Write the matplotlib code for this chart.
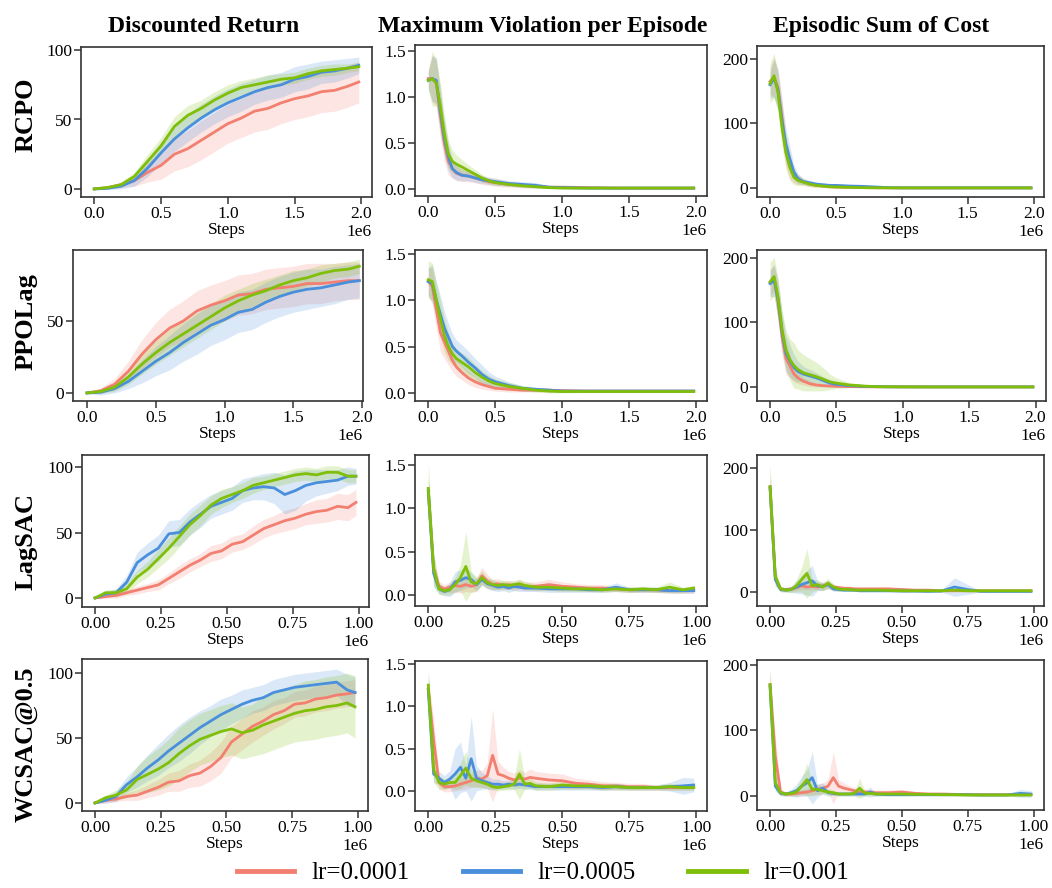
import matplotlib
matplotlib.use('Agg')
import matplotlib.pyplot as plt
from matplotlib.ticker import MultipleLocator, FixedLocator
from matplotlib.lines import Line2D
import numpy as np

plt.rcParams['font.family'] = ['Liberation Serif', 'DejaVu Serif']

# ---------------- labels ----------------
ALGOS = ['RCPO', 'PPOLag', 'LagSAC', 'WCSAC@0.5']
METRICS = ['Discounted Return', 'Maximum Violation per Episode', 'Episodic Sum of Cost']
LRS = ['lr=0.0001', 'lr=0.0005', 'lr=0.001']
COLORS = ['#F27F70', '#4A8FDB', '#7FBF0A']

# ---------------- step grids (in units of 1e6 steps) ----------------
S2R = [0, 0.1, 0.2, 0.3, 0.4, 0.5, 0.6, 0.7, 0.8, 0.9, 1.0, 1.1, 1.2, 1.3, 1.4, 1.5, 1.6, 1.7, 1.8, 1.9, 1.98]
S2C = [0, 0.03, 0.06, 0.09, 0.12, 0.15, 0.18, 0.21, 0.25, 0.3, 0.35, 0.4, 0.45, 0.5, 0.6, 0.7, 0.8, 0.9, 1.0, 1.2, 1.4, 1.6, 1.8, 1.98]
S1R = [0, 0.04, 0.08, 0.12, 0.16, 0.2, 0.24, 0.28, 0.32, 0.36, 0.4, 0.44, 0.48, 0.52, 0.56, 0.6, 0.64, 0.68, 0.72, 0.76, 0.8, 0.84, 0.88, 0.92, 0.96, 0.99]
S1C = [0, 0.02, 0.04, 0.06, 0.08, 0.1, 0.12, 0.14, 0.16, 0.18, 0.2, 0.22, 0.24, 0.26, 0.28, 0.3, 0.32, 0.34, 0.36, 0.38, 0.4,
       0.45, 0.5, 0.55, 0.6, 0.65, 0.7, 0.75, 0.8, 0.85, 0.9, 0.95, 0.99]

# ---------------- RCPO ----------------
RCPO_RET_1 = [0, 1, 3, 6, 12, 17, 25, 29, 35, 41, 47, 51, 56, 58, 62, 65, 67, 70, 71, 74, 77]
RCPO_RET_1_SD = [0.5, 1, 2, 4, 7, 10, 12, 13, 14, 14, 14, 14, 15, 15, 15, 15, 15, 15, 15, 15, 15]
RCPO_RET_2 = [0, 0.5, 2, 6, 15, 26, 36, 44, 51, 57, 62, 66, 70, 73, 75, 79, 81, 84, 85, 87, 89]
RCPO_RET_2_SD = [0.5, 1, 2, 4, 6, 8, 9, 10, 10, 10, 10, 10, 9, 9, 9, 9, 9, 8, 8, 7, 6]
RCPO_RET_3 = [0, 1, 3, 9, 20, 31, 45, 53, 58, 64, 69, 73, 75, 77, 79, 80, 83, 85, 86, 87, 88]
RCPO_RET_3_SD = [0.5, 1, 2, 3, 5, 6, 7, 7, 6, 6, 6, 5, 5, 5, 4, 4, 4, 4, 4, 3, 3]

RCPO_VIO_1 = [1.2, 1.2, 1.15, 0.8, 0.5, 0.3, 0.22, 0.17, 0.15, 0.14, 0.12, 0.1, 0.08, 0.07, 0.05, 0.04, 0.03, 0.02, 0.02, 0.015, 0.01, 0.01, 0.01, 0.01]
RCPO_VIO_1_SD = [0.1, 0.25, 0.25, 0.25, 0.2, 0.15, 0.1, 0.08, 0.07, 0.06, 0.05, 0.05, 0.04, 0.04, 0.03, 0.03, 0.02, 0.015, 0.01, 0.01, 0.005, 0.005, 0.005, 0.005]
RCPO_VIO_2 = [1.18, 1.2, 1.18, 0.85, 0.55, 0.35, 0.22, 0.18, 0.15, 0.14, 0.12, 0.1, 0.09, 0.08, 0.06, 0.05, 0.04, 0.02, 0.015, 0.01, 0.01, 0.01, 0.01, 0.01]
RCPO_VIO_2_SD = [0.1, 0.25, 0.25, 0.25, 0.2, 0.15, 0.1, 0.08, 0.06, 0.05, 0.05, 0.04, 0.04, 0.04, 0.03, 0.03, 0.03, 0.015, 0.01, 0.01, 0.005, 0.005, 0.005, 0.005]
RCPO_VIO_3 = [1.18, 1.2, 1.15, 0.9, 0.6, 0.38, 0.3, 0.27, 0.24, 0.2, 0.16, 0.12, 0.09, 0.07, 0.05, 0.035, 0.025, 0.015, 0.01, 0.01, 0.01, 0.01, 0.01, 0.01]
RCPO_VIO_3_SD = [0.1, 0.3, 0.25, 0.25, 0.2, 0.15, 0.12, 0.1, 0.08, 0.06, 0.05, 0.04, 0.03, 0.03, 0.02, 0.015, 0.01, 0.01, 0.005, 0.005, 0.005, 0.005, 0.005, 0.005]

RCPO_COST_1 = [165, 172, 155, 110, 58, 34, 20, 13, 10, 6, 4, 3, 2, 1.5, 1, 0.5, 0.3, 0.2, 0.1, 0.1, 0.1, 0.1, 0.1, 0.1]
RCPO_COST_1_SD = [20, 30, 30, 30, 25, 20, 12, 8, 5, 4, 3, 2, 2, 1.5, 1, 1, 0.5, 0.5, 0.2, 0.1, 0.1, 0.1, 0.1, 0.1]
RCPO_COST_2 = [160, 170, 152, 105, 68, 45, 25, 15, 10, 8, 6, 5, 4, 4, 3, 2.5, 1.5, 0.5, 0.2, 0.1, 0.1, 0.1, 0.1, 0.1]
RCPO_COST_2_SD = [20, 30, 30, 30, 25, 20, 12, 8, 5, 4, 3, 3, 3, 3, 2, 2, 1, 0.5, 0.2, 0.1, 0.1, 0.1, 0.1, 0.1]
RCPO_COST_3 = [162, 174, 148, 95, 55, 32, 17, 12, 9, 6, 4, 3, 2, 1.5, 1, 0.5, 0.3, 0.2, 0.1, 0.1, 0.1, 0.1, 0.1, 0.1]
RCPO_COST_3_SD = [30, 35, 30, 30, 25, 20, 12, 8, 5, 4, 3, 2, 2, 1.5, 1, 1, 0.5, 0.5, 0.2, 0.1, 0.1, 0.1, 0.1, 0.1]

# ---------------- PPOLag ----------------
PPOL_RET_1 = [0, 1.5, 6, 15, 27, 37, 45, 50, 57, 61, 64, 68, 69, 72, 73, 74, 76, 76, 77, 78, 78]
PPOL_RET_1_SD = [0.5, 2, 4, 7, 10, 12, 13, 14, 14, 14, 14, 14, 14, 14, 14, 14, 14, 14, 13, 13, 13]
PPOL_RET_2 = [0, 0.5, 3, 8, 15, 22, 28, 35, 41, 47, 51, 56, 58, 63, 67, 70, 72, 73, 75, 77, 78]
PPOL_RET_2_SD = [0.5, 2, 3, 5, 8, 10, 12, 13, 14, 14, 14, 14, 14, 14, 14, 14, 14, 13, 13, 12, 12]
PPOL_RET_3 = [0, 1, 4, 11, 20, 28, 35, 41, 47, 53, 59, 64, 68, 71, 75, 78, 80, 83, 85, 86, 88]
PPOL_RET_3_SD = [0.5, 1, 3, 5, 7, 8, 9, 9, 9, 9, 9, 8, 8, 8, 7, 7, 6, 6, 5, 5, 5]

PPOL_VIO_1 = [1.2, 1.15, 0.9, 0.65, 0.55, 0.45, 0.35, 0.28, 0.22, 0.16, 0.12, 0.09, 0.07, 0.05, 0.04, 0.03, 0.03, 0.03, 0.025, 0.02, 0.02, 0.02, 0.02, 0.02]
PPOL_VIO_1_SD = [0.15, 0.2, 0.2, 0.2, 0.18, 0.15, 0.12, 0.1, 0.08, 0.07, 0.06, 0.05, 0.04, 0.03, 0.03, 0.02, 0.02, 0.02, 0.015, 0.01, 0.01, 0.01, 0.01, 0.01]
PPOL_VIO_2 = [1.2, 1.18, 1.0, 0.85, 0.7, 0.6, 0.5, 0.45, 0.4, 0.33, 0.27, 0.2, 0.15, 0.12, 0.08, 0.05, 0.04, 0.03, 0.02, 0.02, 0.02, 0.02, 0.02, 0.02]
PPOL_VIO_2_SD = [0.15, 0.2, 0.2, 0.2, 0.18, 0.15, 0.14, 0.12, 0.12, 0.12, 0.1, 0.1, 0.08, 0.06, 0.04, 0.03, 0.02, 0.02, 0.015, 0.01, 0.01, 0.01, 0.01, 0.01]
PPOL_VIO_3 = [1.22, 1.2, 1.0, 0.8, 0.62, 0.5, 0.42, 0.37, 0.33, 0.28, 0.22, 0.17, 0.13, 0.1, 0.07, 0.05, 0.03, 0.02, 0.015, 0.015, 0.015, 0.015, 0.015, 0.015]
PPOL_VIO_3_SD = [0.2, 0.2, 0.2, 0.2, 0.18, 0.15, 0.12, 0.1, 0.1, 0.1, 0.08, 0.07, 0.06, 0.05, 0.04, 0.03, 0.02, 0.02, 0.015, 0.01, 0.01, 0.01, 0.01, 0.01]

PPOL_COST_1 = [162, 168, 130, 78, 44, 32, 20, 14, 9, 5, 3, 2, 1.5, 1, 0.5, 0.3, 0.2, 0.1, 0.1, 0.1, 0.1, 0.1, 0.1, 0.1]
PPOL_COST_1_SD = [20, 20, 30, 30, 25, 18, 12, 9, 6, 4, 3, 2, 1.5, 1, 0.5, 0.3, 0.2, 0.1, 0.1, 0.1, 0.1, 0.1, 0.1, 0.1]
PPOL_COST_2 = [160, 165, 135, 85, 52, 40, 30, 24, 20, 17, 14, 10, 6, 4, 2, 1, 0.5, 0.3, 0.2, 0.1, 0.1, 0.1, 0.1, 0.1]
PPOL_COST_2_SD = [20, 25, 30, 30, 28, 25, 20, 16, 12, 10, 8, 6, 5, 4, 2, 1, 0.5, 0.3, 0.2, 0.1, 0.1, 0.1, 0.1, 0.1]
PPOL_COST_3 = [163, 171, 138, 88, 57, 42, 33, 27, 22, 19, 16, 12, 8, 6, 3, 1.5, 0.5, 0.3, 0.2, 0.1, 0.1, 0.1, 0.1, 0.1]
PPOL_COST_3_SD = [30, 30, 30, 30, 30, 32, 35, 30, 28, 25, 22, 18, 12, 8, 4, 2, 1, 0.5, 0.3, 0.2, 0.1, 0.1, 0.1, 0.1]

# ---------------- LagSAC ----------------
LSAC_RET_1 = [0, 1, 2, 4, 6, 8, 10, 15, 20, 25, 29, 34, 36, 41, 43, 48, 53, 56, 59, 61, 64, 66, 67, 70, 69, 73]
LSAC_RET_1_SD = [0.5, 1, 2, 2, 3, 3, 4, 4, 5, 5, 5, 6, 6, 6, 6, 7, 7, 7, 8, 8, 8, 9, 9, 10, 10, 10]
LSAC_RET_2 = [0, 3, 4, 12, 27, 33, 38, 49, 50, 58, 64, 70, 73, 76, 82, 84, 85, 84, 79, 82, 86, 88, 89, 90, 93, 93]
LSAC_RET_2_SD = [0.5, 2, 3, 5, 8, 9, 10, 10, 10, 10, 10, 9, 9, 9, 9, 9, 10, 12, 15, 15, 12, 10, 9, 8, 7, 6]
LSAC_RET_3 = [0, 4, 4, 7, 16, 22, 30, 38, 47, 56, 63, 71, 76, 79, 82, 86, 88, 90, 92, 94, 95, 94, 96, 96, 93, 93]
LSAC_RET_3_SD = [0.5, 2, 3, 4, 5, 6, 7, 8, 8, 8, 8, 7, 7, 6, 6, 6, 5, 5, 5, 5, 5, 5, 5, 5, 5, 5]

LSAC_VIO_1 = [1.2, 0.3, 0.1, 0.07, 0.09, 0.11, 0.1, 0.12, 0.1, 0.12, 0.22, 0.16, 0.12, 0.13, 0.11, 0.12, 0.1, 0.12, 0.1, 0.1, 0.1,
              0.12, 0.1, 0.09, 0.08, 0.08, 0.07, 0.06, 0.06, 0.06, 0.05, 0.05, 0.05]
LSAC_VIO_1_SD = [0.15, 0.15, 0.06, 0.05, 0.06, 0.08, 0.08, 0.08, 0.07, 0.08, 0.1, 0.08, 0.06, 0.06, 0.05, 0.05, 0.05, 0.06, 0.05, 0.05, 0.05,
                 0.06, 0.05, 0.04, 0.04, 0.04, 0.03, 0.03, 0.03, 0.03, 0.03, 0.03, 0.03]
LSAC_VIO_2 = [1.2, 0.25, 0.07, 0.04, 0.06, 0.15, 0.17, 0.2, 0.18, 0.12, 0.18, 0.13, 0.11, 0.09, 0.1, 0.08, 0.1, 0.09, 0.08, 0.08, 0.08,
              0.07, 0.07, 0.07, 0.06, 0.06, 0.09, 0.06, 0.06, 0.06, 0.05, 0.05, 0.05]
LSAC_VIO_2_SD = [0.15, 0.15, 0.06, 0.05, 0.08, 0.12, 0.12, 0.12, 0.08, 0.07, 0.07, 0.06, 0.06, 0.05, 0.05, 0.05, 0.05, 0.05, 0.04, 0.04, 0.04,
                 0.04, 0.04, 0.04, 0.03, 0.03, 0.05, 0.03, 0.03, 0.03, 0.03, 0.03, 0.03]
LSAC_VIO_3 = [1.23, 0.3, 0.07, 0.05, 0.06, 0.12, 0.2, 0.33, 0.15, 0.13, 0.2, 0.14, 0.12, 0.11, 0.12, 0.11, 0.12, 0.13, 0.11, 0.1, 0.09,
              0.09, 0.08, 0.07, 0.07, 0.06, 0.07, 0.06, 0.07, 0.06, 0.09, 0.06, 0.08]
LSAC_VIO_3_SD = [0.3, 0.2, 0.06, 0.05, 0.06, 0.08, 0.15, 0.4, 0.12, 0.08, 0.08, 0.06, 0.06, 0.05, 0.05, 0.05, 0.05, 0.05, 0.05, 0.04, 0.04,
                 0.04, 0.04, 0.03, 0.03, 0.03, 0.03, 0.03, 0.03, 0.03, 0.06, 0.03, 0.03]

LSAC_COST_1 = [170, 22, 5, 4, 5, 7, 10, 8, 9, 8, 10, 12, 8, 7, 6, 6, 5, 5, 5, 5, 5,
               5, 4, 3, 3, 2, 2, 2, 2, 2, 2, 2, 2]
LSAC_COST_1_SD = [30, 10, 4, 3, 4, 5, 6, 5, 5, 5, 7, 7, 5, 4, 3, 3, 3, 3, 3, 3, 3,
                  3, 2, 2, 2, 1.5, 1.5, 1.5, 1.5, 1.5, 1.5, 1.5, 1.5]
LSAC_COST_2 = [168, 20, 4, 3, 4, 8, 12, 15, 18, 10, 9, 12, 5, 4, 3, 3, 3, 2, 2, 2, 2,
               2, 1.5, 1.5, 1, 1.5, 8, 4, 1, 1, 1, 1, 1]
LSAC_COST_2_SD = [20, 10, 4, 3, 5, 10, 15, 20, 25, 8, 6, 6, 4, 3, 2, 2, 2, 2, 2, 2, 2,
                  2, 1.5, 1.5, 1, 2, 15, 8, 1, 1, 1, 1, 1]
LSAC_COST_3 = [170, 25, 5, 3, 4, 10, 20, 30, 10, 12, 8, 14, 8, 5, 4, 4, 3, 3, 3, 3, 3,
               2.5, 2, 2, 2, 2, 3, 2, 2, 2, 2, 2, 2]
LSAC_COST_3_SD = [40, 15, 4, 3, 5, 10, 20, 40, 10, 8, 6, 8, 5, 4, 3, 3, 2, 2, 2, 2, 2,
                  2, 2, 2, 2, 2, 2, 2, 2, 2, 2, 2, 2]

# ---------------- WCSAC@0.5 ----------------
WSAC_RET_1 = [0, 2, 3, 5, 6, 9, 12, 16, 17, 21, 23, 28, 35, 47, 53, 59, 63, 68, 71, 76, 77, 80, 81, 83, 84, 85]
WSAC_RET_1_SD = [0.5, 2, 2, 3, 4, 5, 6, 7, 8, 9, 10, 11, 12, 12, 12, 12, 11, 11, 10, 10, 10, 10, 10, 10, 10, 10]
WSAC_RET_2 = [0, 2, 5, 14, 20, 27, 33, 40, 46, 52, 58, 63, 68, 72, 76, 79, 81, 85, 87, 89, 90, 91, 92, 93, 87, 85]
WSAC_RET_2_SD = [0.5, 2, 4, 6, 8, 10, 12, 13, 14, 14, 13, 12, 12, 11, 11, 10, 10, 10, 10, 10, 10, 10, 10, 10, 12, 12]
WSAC_RET_3 = [0, 4, 6, 10, 18, 22, 26, 31, 38, 44, 49, 52, 55, 57, 54, 56, 60, 63, 66, 69, 71, 72, 74, 75, 77, 74]
WSAC_RET_3_SD = [0.5, 2, 4, 6, 10, 14, 16, 18, 20, 20, 20, 20, 20, 20, 20, 20, 22, 22, 22, 22, 23, 23, 23, 23, 23, 24]

WSAC_VIO_1 = [1.2, 0.6, 0.1, 0.05, 0.05, 0.06, 0.08, 0.1, 0.12, 0.15, 0.14, 0.18, 0.42, 0.2, 0.18, 0.15, 0.13, 0.15, 0.14, 0.16, 0.15,
              0.13, 0.12, 0.09, 0.08, 0.06, 0.06, 0.05, 0.05, 0.04, 0.04, 0.04, 0.04]
WSAC_VIO_1_SD = [0.15, 0.25, 0.08, 0.06, 0.06, 0.06, 0.07, 0.08, 0.08, 0.1, 0.1, 0.15, 0.55, 0.15, 0.1, 0.08, 0.08, 0.1, 0.08, 0.1, 0.08,
                 0.08, 0.08, 0.06, 0.05, 0.05, 0.04, 0.04, 0.04, 0.03, 0.03, 0.03, 0.03]
WSAC_VIO_2 = [1.2, 0.2, 0.15, 0.1, 0.14, 0.2, 0.28, 0.15, 0.38, 0.15, 0.12, 0.1, 0.08, 0.08, 0.07, 0.08, 0.07, 0.08, 0.07, 0.06, 0.05,
              0.05, 0.05, 0.05, 0.05, 0.04, 0.05, 0.04, 0.04, 0.04, 0.05, 0.06, 0.07]
WSAC_VIO_2_SD = [0.2, 0.1, 0.08, 0.08, 0.1, 0.3, 0.3, 0.15, 0.5, 0.15, 0.1, 0.08, 0.06, 0.06, 0.05, 0.05, 0.05, 0.05, 0.05, 0.04, 0.04,
                 0.04, 0.04, 0.04, 0.04, 0.03, 0.04, 0.03, 0.03, 0.03, 0.05, 0.1, 0.08]
WSAC_VIO_3 = [1.25, 0.25, 0.1, 0.08, 0.1, 0.1, 0.18, 0.27, 0.15, 0.12, 0.1, 0.08, 0.05, 0.04, 0.05, 0.06, 0.08, 0.2, 0.08, 0.09, 0.06,
              0.05, 0.07, 0.06, 0.06, 0.05, 0.05, 0.04, 0.04, 0.04, 0.05, 0.04, 0.04]
WSAC_VIO_3_SD = [0.2, 0.15, 0.08, 0.06, 0.06, 0.08, 0.15, 0.2, 0.1, 0.08, 0.06, 0.05, 0.04, 0.04, 0.04, 0.05, 0.06, 0.3, 0.06, 0.06, 0.05,
                 0.04, 0.05, 0.04, 0.04, 0.04, 0.04, 0.03, 0.03, 0.03, 0.04, 0.03, 0.03]

WSAC_COST_1 = [170, 60, 6, 3, 3, 4, 5, 6, 8, 10, 12, 15, 28, 15, 12, 10, 8, 6, 6, 6, 5,
               5, 6, 4, 3, 3, 2.5, 2, 2, 2, 2, 2, 2]
WSAC_COST_1_SD = [20, 30, 5, 3, 3, 4, 5, 5, 6, 8, 8, 10, 40, 10, 8, 6, 5, 4, 4, 4, 4,
                  4, 4, 3, 2, 2, 2, 1.5, 1.5, 1.5, 1.5, 1.5, 1.5]
WSAC_COST_2 = [168, 15, 4, 3, 5, 8, 15, 20, 28, 8, 12, 5, 4, 3, 3, 3, 3, 3, 3, 6, 3,
               2, 2, 2, 2, 2, 2, 2, 1.5, 1.5, 1.5, 4, 3]
WSAC_COST_2_SD = [20, 8, 4, 3, 5, 10, 15, 20, 40, 10, 8, 5, 3, 3, 3, 3, 3, 3, 3, 8, 3,
                  2, 2, 2, 2, 2, 2, 2, 1.5, 1.5, 1.5, 6, 5]
WSAC_COST_3 = [170, 20, 5, 3, 4, 6, 15, 25, 10, 10, 8, 6, 5, 3, 3, 3, 4, 12, 4, 4, 3,
               3, 3, 2.5, 2.5, 2, 2, 1.5, 1.5, 1.5, 1.5, 1.5, 1.5]
WSAC_COST_3_SD = [28, 10, 4, 3, 4, 6, 12, 25, 10, 8, 6, 5, 4, 3, 3, 3, 4, 15, 4, 3, 3,
                  3, 3, 2, 2, 2, 2, 1.5, 1.5, 1.5, 1.5, 1.5, 1.5]

# ---------------- panel assembly ----------------
PANELS = {
    (0, 0): (S2R, [(RCPO_RET_1, RCPO_RET_1_SD), (RCPO_RET_2, RCPO_RET_2_SD), (RCPO_RET_3, RCPO_RET_3_SD)]),
    (0, 1): (S2C, [(RCPO_VIO_1, RCPO_VIO_1_SD), (RCPO_VIO_2, RCPO_VIO_2_SD), (RCPO_VIO_3, RCPO_VIO_3_SD)]),
    (0, 2): (S2C, [(RCPO_COST_1, RCPO_COST_1_SD), (RCPO_COST_2, RCPO_COST_2_SD), (RCPO_COST_3, RCPO_COST_3_SD)]),
    (1, 0): (S2R, [(PPOL_RET_1, PPOL_RET_1_SD), (PPOL_RET_2, PPOL_RET_2_SD), (PPOL_RET_3, PPOL_RET_3_SD)]),
    (1, 1): (S2C, [(PPOL_VIO_1, PPOL_VIO_1_SD), (PPOL_VIO_2, PPOL_VIO_2_SD), (PPOL_VIO_3, PPOL_VIO_3_SD)]),
    (1, 2): (S2C, [(PPOL_COST_1, PPOL_COST_1_SD), (PPOL_COST_2, PPOL_COST_2_SD), (PPOL_COST_3, PPOL_COST_3_SD)]),
    (2, 0): (S1R, [(LSAC_RET_1, LSAC_RET_1_SD), (LSAC_RET_2, LSAC_RET_2_SD), (LSAC_RET_3, LSAC_RET_3_SD)]),
    (2, 1): (S1C, [(LSAC_VIO_1, LSAC_VIO_1_SD), (LSAC_VIO_2, LSAC_VIO_2_SD), (LSAC_VIO_3, LSAC_VIO_3_SD)]),
    (2, 2): (S1C, [(LSAC_COST_1, LSAC_COST_1_SD), (LSAC_COST_2, LSAC_COST_2_SD), (LSAC_COST_3, LSAC_COST_3_SD)]),
    (3, 0): (S1R, [(WSAC_RET_1, WSAC_RET_1_SD), (WSAC_RET_2, WSAC_RET_2_SD), (WSAC_RET_3, WSAC_RET_3_SD)]),
    (3, 1): (S1C, [(WSAC_VIO_1, WSAC_VIO_1_SD), (WSAC_VIO_2, WSAC_VIO_2_SD), (WSAC_VIO_3, WSAC_VIO_3_SD)]),
    (3, 2): (S1C, [(WSAC_COST_1, WSAC_COST_1_SD), (WSAC_COST_2, WSAC_COST_2_SD), (WSAC_COST_3, WSAC_COST_3_SD)]),
}

# ---------------- layout (pixels: left, right, top, bottom) ----------------
W, H = 1052, 888
BOXES = {
    (0, 0): (81, 372, 47, 197), (0, 1): (415, 707, 45, 196), (0, 2): (757, 1044, 46, 197),
    (1, 0): (73, 363, 250, 401), (1, 1): (415, 707, 250, 401), (1, 2): (757, 1046, 250, 401),
    (2, 0): (82, 369, 455, 607), (2, 1): (415, 707, 455, 606), (2, 2): (757, 1044, 455, 606),
    (3, 0): (82, 368, 659, 811), (3, 1): (415, 707, 661, 811), (3, 2): (757, 1044, 660, 810),
}
YLIMS = {
    (0, 0): (-5.8, 102.2), (0, 1): (-0.076, 1.565), (0, 2): (-14, 220),
    (1, 0): (-5.6, 99.3), (1, 1): (-0.087, 1.54), (1, 2): (-21.7, 212),
    (2, 0): (-6.9, 109.2), (2, 1): (-0.127, 1.615), (2, 2): (-22.6, 221),
    (3, 0): (-6.2, 110.8), (3, 1): (-0.237, 1.535), (3, 2): (-21.4, 207.6),
}
YTICKS = [[0, 50, 100], [0, 0.5, 1.0, 1.5], [0, 100, 200]]

fig = plt.figure(figsize=(W / 100, H / 100), dpi=100)
SPINE = '#333333'
FS = 12.5

for (r, c), (steps, series) in PANELS.items():
    l, rr, t, b = BOXES[(r, c)]
    ax = fig.add_axes([l / W, 1 - b / H, (rr - l) / W, (b - t) / H])
    x = np.array(steps, dtype=float)   # in units of 1e6 steps
    for k, (mean, sd) in enumerate(series):
        m = np.array(mean, dtype=float)
        s = np.array(sd, dtype=float)
        ax.fill_between(x, m - s, m + s, color=COLORS[k], alpha=0.2, linewidth=0)
    for k, (mean, sd) in enumerate(series):
        ax.plot(x, mean, color=COLORS[k], lw=2.0)
    ax.set_ylim(*YLIMS[(r, c)])
    ax.yaxis.set_major_locator(FixedLocator(YTICKS[c]))
    if r < 2:
        ax.xaxis.set_major_locator(MultipleLocator(0.5))
    else:
        ax.xaxis.set_major_locator(MultipleLocator(0.25))
    ax.margins(x=0.05)
    if (r, c) == (1, 0):
        ax.set_xlim(-0.102, 2.007)
    ax.tick_params(axis='both', direction='out', length=5, width=1.1, color=SPINE,
                   labelsize=FS, pad=1.5, labelcolor='black')
    for sp in ax.spines.values():
        sp.set_color(SPINE)
        sp.set_linewidth(1.2)
    ax.set_xlabel('Steps', fontsize=FS, labelpad=0)
    ax.annotate('1e6', xy=(1, 0), xycoords='axes fraction', xytext=(0, -19.2),
                textcoords='offset points', ha='right', va='top', fontsize=FS)

# column titles
TITLE_X = [204, 543, 881]
for c, name in enumerate(METRICS):
    fig.text(TITLE_X[c] / W, 1 - 32 / H, name, ha='center', va='baseline',
             fontsize=17, fontweight='bold')

# row labels
ROW_Y = [115, 322, 542, 744]
for r, name in enumerate(ALGOS):
    fig.text(26 / W, 1 - ROW_Y[r] / H, name, ha='center', va='center', rotation=90,
             fontsize=19, fontweight='bold')

# legend
handles = [Line2D([0], [0], color=COLORS[k], lw=3.5) for k in range(3)]
fig.legend(handles, LRS, loc='center', bbox_to_anchor=(543 / W, 1 - 873 / H), ncol=3,
           frameon=False, fontsize=18, handlelength=2.3, handletextpad=0.7, columnspacing=2.1)

fig.savefig('out.png', dpi=100)
